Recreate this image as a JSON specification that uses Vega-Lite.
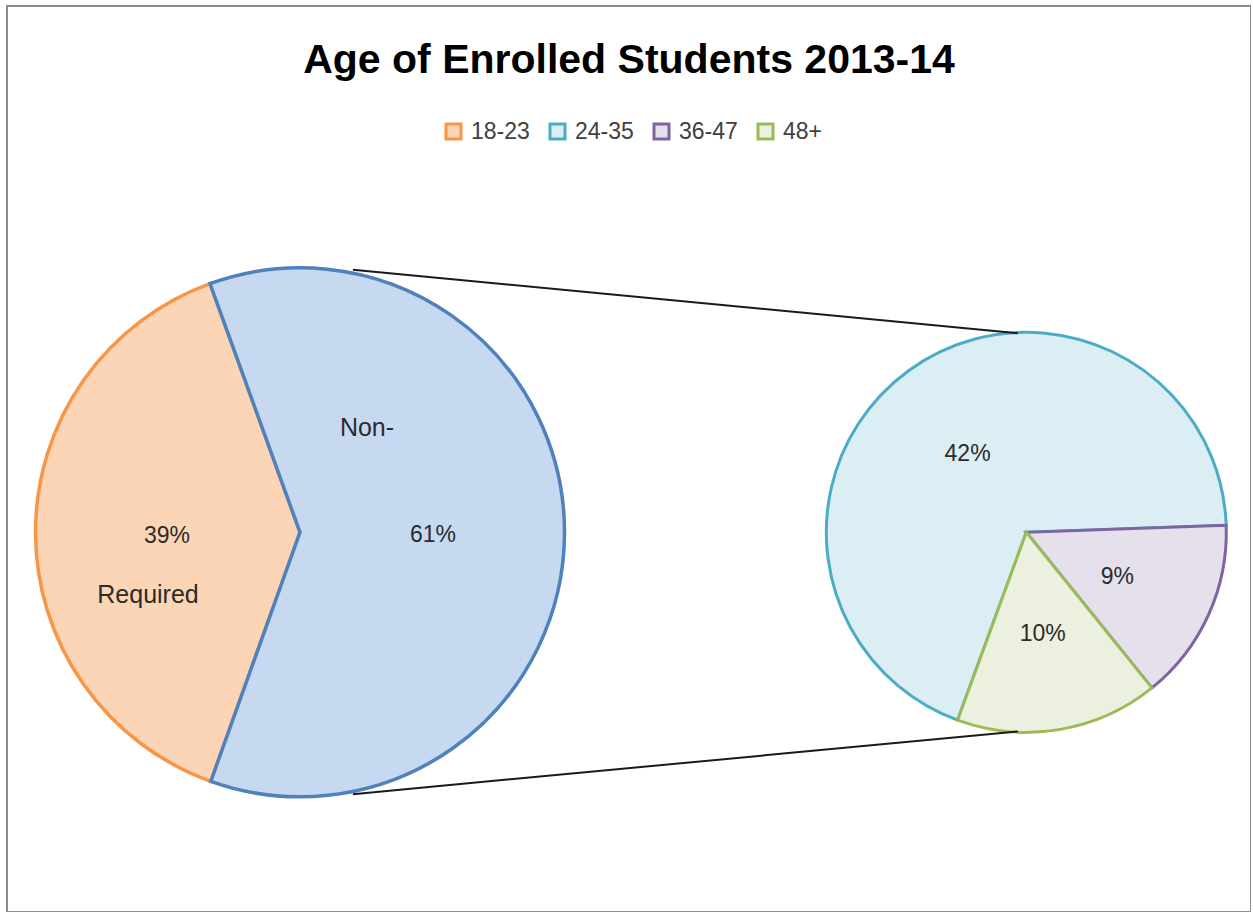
{
  "$schema": "https://vega.github.io/schema/vega-lite/v6.json",
  "width": 1244,
  "height": 906,
  "autosize": "none",
  "padding": {"left": 7, "top": 6, "right": 0, "bottom": 0},
  "background": "white",
  "title": {
    "text": "Age of Enrolled Students 2013-14",
    "font": "Liberation Sans",
    "fontSize": 41,
    "fontWeight": "bold",
    "color": "#000000",
    "anchor": "middle",
    "offset": -76
  },
  "config": {
    "view": {"stroke": "#8c8c8c", "strokeWidth": 2},
    "legend": {
      "orient": "none",
      "legendX": 435,
      "legendY": 114,
      "direction": "horizontal",
      "symbolType": "square",
      "symbolSize": 225,
      "symbolStrokeWidth": 3,
      "labelFont": "Liberation Sans",
      "labelFontSize": 23,
      "labelColor": "#404040",
      "columnPadding": 14,
      "labelOffset": 6,
      "padding": 0
    }
  },
  "datasets": {
    "required": [
      {"group": "18-23", "name": "Required", "value": 0.39},
      {"group": "Non-Required", "name": "Non-", "value": 0.61}
    ],
    "ages": [
      {"group": "24-35", "value": 0.42},
      {"group": "36-47", "value": 0.09},
      {"group": "48+", "value": 0.10}
    ],
    "connectors": [
      {"side": "top", "x": 0.2, "y": 0.993, "x2": 2.714, "y2": 0.7527},
      {"side": "bottom", "x": 0.2, "y": -0.99, "x2": 2.714, "y2": -0.7531}
    ]
  },
  "layer": [
    {
      "data": {"name": "required"},
      "encoding": {
        "x": {"datum": 0, "type": "quantitative", "scale": {"domain": [-1.1078, 3.5955], "nice": false, "zero": false}, "axis": null},
        "y": {"datum": 0, "type": "quantitative", "scale": {"domain": [-1.4355, 1.9898], "nice": false, "zero": false}, "axis": null},
        "theta": {"field": "value", "type": "quantitative", "stack": true, "scale": {"range": [3.4855, 9.7687]}},
        "order": {"field": "group", "sort": "ascending"}
      },
      "layer": [
        {
          "mark": {"type": "arc", "radius": 264.5, "strokeWidth": 3.5},
          "encoding": {
            "fill": {
              "field": "group", "type": "nominal",
              "scale": {"domain": ["18-23", "24-35", "36-47", "48+", "Non-Required"], "range": ["#FBD5B5", "#DBEEF3", "#E5E0EC", "#EBF1DE", "#C6D9F1"]},
              "legend": {"title": null, "values": ["18-23", "24-35", "36-47", "48+"]}
            },
            "stroke": {
              "field": "group", "type": "nominal",
              "scale": {"domain": ["18-23", "24-35", "36-47", "48+", "Non-Required"], "range": ["#F79646", "#4BACC6", "#8064A2", "#9BBB59", "#4F81BD"]},
              "legend": {"title": null, "values": ["18-23", "24-35", "36-47", "48+"]}
            }
          }
        },
        {
          "mark": {"type": "text", "radius": 133, "dy": 3, "baseline": "middle", "align": "center", "font": "Liberation Sans", "fontSize": 23, "color": "#2b2b2b"},
          "encoding": {"text": {"field": "value", "type": "quantitative", "format": ".0%"}}
        },
        {
          "mark": {"type": "text", "radius": 133, "dx": -19, "dy": 62, "baseline": "middle", "align": "center", "font": "Liberation Sans", "fontSize": 25, "color": "#2b2b2b"},
          "encoding": {"text": {"condition": {"test": "datum.group === '18-23'", "field": "name"}, "value": ""}}
        },
        {
          "mark": {"type": "text", "radius": 133, "dx": -66, "dy": -104, "baseline": "middle", "align": "center", "font": "Liberation Sans", "fontSize": 25, "color": "#2b2b2b"},
          "encoding": {"text": {"condition": {"test": "datum.group === 'Non-Required'", "field": "name"}, "value": ""}}
        }
      ]
    },
    {
      "data": {"name": "ages"},
      "encoding": {
        "x": {"datum": 2.746, "type": "quantitative"},
        "y": {"datum": 0, "type": "quantitative"},
        "theta": {"field": "value", "type": "quantitative", "stack": true, "scale": {"range": [3.4924, 9.7756]}},
        "order": {"field": "group", "sort": "ascending"}
      },
      "layer": [
        {
          "mark": {"type": "arc", "radius": 200, "strokeWidth": 3},
          "encoding": {
            "fill": {"field": "group", "type": "nominal"},
            "stroke": {"field": "group", "type": "nominal"}
          }
        },
        {
          "mark": {"type": "text", "radius": 100, "dy": 3, "baseline": "middle", "align": "center", "font": "Liberation Sans", "fontSize": 23, "color": "#2b2b2b"},
          "encoding": {"text": {"field": "value", "type": "quantitative", "format": ".0%"}}
        }
      ]
    },
    {
      "data": {"name": "connectors"},
      "mark": {"type": "rule", "color": "#1a1a1a", "strokeWidth": 2},
      "encoding": {
        "x": {"field": "x", "type": "quantitative"},
        "y": {"field": "y", "type": "quantitative"},
        "x2": {"field": "x2"},
        "y2": {"field": "y2"}
      }
    }
  ],
  "resolve": {"scale": {"theta": "independent"}}
}
